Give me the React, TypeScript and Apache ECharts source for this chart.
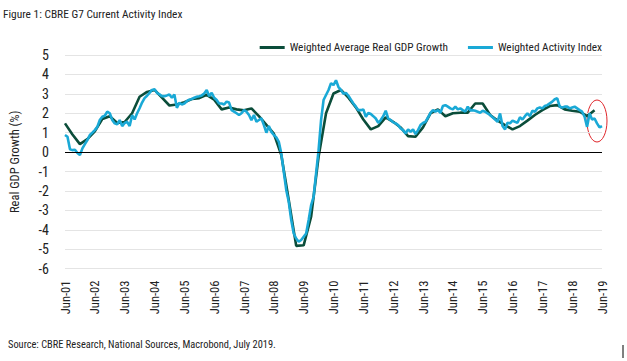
import React, { useEffect, useRef } from "react";
import * as echarts from "echarts";

const FONT = "'Roboto Condensed', 'DejaVu Sans Condensed', sans-serif";

const MONTH_NAMES = ["Jun", "Jul", "Aug", "Sep", "Oct", "Nov", "Dec", "Jan", "Feb", "Mar", "Apr", "May"];
const START_YEAR = 2001;
const N_MONTHS = 217; // Jun-01 .. Jun-19

// Weighted Activity Index (monthly, from Jun-01)
const ACTIVITY_INDEX = [
  0.88, 0.79, 0.15, 0.1, 0.12, -0.05, -0.15, 0.19, 0.41, 0.62,
  0.88, 1.0, 1.13, 1.3, 1.65, 1.82, 1.87, 2.08, 2.0, 1.65,
  1.48, 1.43, 1.65, 1.34, 1.5, 1.56, 1.34, 1.9, 1.68, 2.0,
  2.26, 2.55, 2.78, 2.9, 3.05, 3.2, 3.23, 3.05, 2.97, 2.88,
  2.88, 2.92, 2.97, 2.8, 2.97, 2.28, 2.53, 2.45, 2.5, 2.62,
  2.7, 2.73, 2.8, 2.85, 2.88, 2.92, 3.02, 3.2, 2.88, 3.05,
  2.8, 2.68, 2.5, 2.5, 2.45, 2.6, 2.55, 2.16, 2.08, 2.0,
  1.91, 2.0, 2.16, 2.08, 1.91, 1.65, 1.91, 1.56, 1.65, 1.74,
  1.39, 1.0, 1.34, 1.04, 0.88, 0.76, 0.53, -0.07, -1.01, -1.96,
  -2.56, -3.5, -4.19, -4.45, -4.62, -4.53, -4.36, -4.19, -3.5, -2.73,
  -2.3, -1.1, 0.1, 1.65, 2.68, 2.94, 3.2, 3.55, 3.45, 3.7,
  3.35, 3.2, 3.0, 3.05, 2.9, 2.7, 2.5, 2.34, 2.16, 2.16,
  2.2, 1.82, 2.02, 1.96, 1.85, 1.73, 1.5, 1.65, 1.85, 2.13,
  1.73, 1.65, 1.53, 1.48, 1.39, 1.22, 1.13, 0.96, 1.17, 1.05,
  1.17, 0.93, 1.13, 1.39, 1.5, 1.56, 1.78, 2.02, 2.16, 2.08,
  2.16, 2.02, 2.37, 2.42, 2.34, 2.25, 2.2, 2.34, 2.2, 2.25,
  2.16, 2.08, 2.34, 2.15, 2.16, 2.13, 2.08, 2.03, 2.13, 2.08,
  1.99, 1.91, 1.79, 1.68, 1.56, 1.99, 1.34, 1.17, 1.51, 1.48,
  1.62, 1.56, 1.51, 1.79, 1.68, 1.85, 1.99, 1.85, 2.13, 2.08,
  2.25, 2.3, 2.25, 2.37, 2.42, 2.51, 2.6, 2.72, 2.77, 2.34,
  2.3, 2.34, 2.34, 2.25, 2.3, 2.34, 2.25, 2.16, 2.08, 1.82,
  1.3, 1.99, 1.68, 1.73, 1.48, 1.27, 1.34,
];

// Weighted Average Real GDP Growth (quarterly: Jun-01, Sep-01, Dec-01, ... Mar-19)
const GDP_QUARTERLY = [
  1.48, 0.91, 0.41, 0.67, 1.07, 1.7, 1.85, 1.5, 1.55, 2.0,
  2.85, 3.1, 3.2, 2.8, 2.4, 2.45, 2.57, 2.73, 2.78, 2.95,
  2.7, 2.2, 2.3, 2.2, 2.15, 2.25, 1.85, 1.4, 0.95, -0.15,
  -2.47, -4.83, -4.8, -3.33, -0.24, 2.0, 3.02, 3.2, 2.8, 2.3,
  1.68, 1.17, 1.34, 1.79, 1.56, 1.27, 0.82, 0.79, 1.27, 1.99,
  2.2, 1.85, 2.0, 2.03, 2.03, 2.5, 2.5, 1.91, 1.62, 1.39,
  1.17, 1.34, 1.62, 1.91, 2.16, 2.37, 2.42, 2.2, 2.13, 2.08,
  1.85, 2.16,
];

const Y_MIN = -6;
const Y_MAX = 5;

function buildCategories(): string[] {
  const out: string[] = [];
  for (let i = 0; i < N_MONTHS; i++) {
    const name = MONTH_NAMES[i % 12];
    const year = START_YEAR + Math.floor((i + 5) / 12);
    out.push(name + "-" + String(year % 100).padStart(2, "0"));
  }
  return out;
}

function buildGdpMonthly(): (number | null)[] {
  const out: (number | null)[] = new Array(N_MONTHS).fill(null);
  GDP_QUARTERLY.forEach((v, q) => {
    out[q * 3] = v;
  });
  return out;
}

export default function App() {
  const ref = useRef<HTMLDivElement>(null);
  useEffect(() => {
    if (!ref.current) return;
    const chart = echarts.init(ref.current, null, { renderer: "svg" });
    const categories = buildCategories();
    const activity: (number | null)[] = categories.map((_, i) =>
      i < ACTIVITY_INDEX.length ? ACTIVITY_INDEX[i] : null
    );
    chart.setOption({
      animation: false,
      backgroundColor: "#ffffff",
      grid: { left: 63, right: 25, top: 55, bottom: 92.4, containLabel: false },
      legend: {
        right: 20,
        top: 37,
        itemWidth: 25,
        itemHeight: 3,
        itemGap: 20,
        icon: "rect",
        textStyle: { fontFamily: FONT, fontSize: 11.3, color: "#222" },
        data: ["Weighted Average Real GDP Growth", "Weighted Activity Index"],
      },
      xAxis: {
        type: "category",
        data: categories,
        boundaryGap: false,
        axisLine: { show: false },
        axisTick: { show: false },
        splitLine: { show: false },
        axisLabel: {
          interval: 11,
          rotate: 90,
          margin: 12,
          fontFamily: FONT,
          fontSize: 12.5,
          color: "#222",
        },
      },
      yAxis: {
        type: "value",
        min: Y_MIN,
        max: Y_MAX,
        interval: 1,
        axisLine: { show: false },
        axisTick: { show: false },
        axisLabel: { margin: 16, fontFamily: FONT, fontSize: 14, color: "#222" },
        splitLine: { lineStyle: { color: "#e4e4e4", width: 1 } },
        name: "Real GDP Growth (%)",
        nameLocation: "middle",
        nameGap: 44,
        nameRotate: 90,
        nameTextStyle: { fontFamily: FONT, fontSize: 12.5, color: "#222" },
      },
      series: [
        {
          name: "Weighted Average Real GDP Growth",
          type: "line",
          data: buildGdpMonthly(),
          connectNulls: true,
          symbol: "none",
          lineStyle: { color: "#0b4d3a", width: 2.6 },
          itemStyle: { color: "#0b4d3a" },
          markLine: {
            silent: true,
            symbol: ["none", "none"],
            label: { show: false },
            lineStyle: { color: "#000", type: "solid", width: 1 },
            data: [{ yAxis: 0 }],
          },
        },
        {
          name: "Weighted Activity Index",
          type: "line",
          data: activity,
          symbol: "none",
          lineStyle: { color: "#1aa9d6", width: 2.6 },
          itemStyle: { color: "#1aa9d6" },
        },
      ],
      graphic: [
        {
          type: "text",
          left: 3,
          top: 8,
          style: { text: "Figure 1: CBRE G7 Current Activity Index", fontFamily: FONT, fontSize: 11.4, fill: "#222" },
        },
        {
          type: "text",
          left: 8,
          top: 339,
          style: { text: "Source: CBRE Research, National Sources, Macrobond, July 2019.", fontFamily: FONT, fontSize: 10.4, fill: "#222" },
        },
        {
          type: "ellipse",
          shape: { cx: 597, cy: 121, rx: 10, ry: 21 },
          style: { fill: "none", stroke: "#e0262b", lineWidth: 1 },
        },
        {
          type: "line",
          shape: { x1: 623, y1: 345, x2: 623, y2: 358 },
          style: { stroke: "#000", lineWidth: 1 },
        },
      ],
    });
    return () => chart.dispose();
  }, []);
  return (
    <div
      ref={ref}
      style={{ position: "fixed", left: 0, top: 0, width: 627, height: 361, background: "#fff" }}
    />
  );
}
